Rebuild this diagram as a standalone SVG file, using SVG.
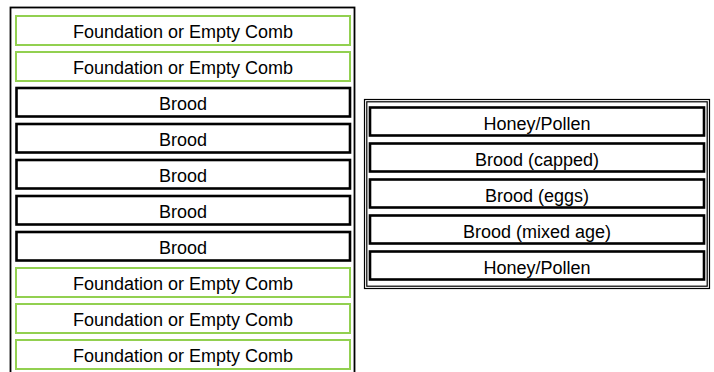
<svg xmlns="http://www.w3.org/2000/svg" width="714" height="372" viewBox="0 0 714 372">
<style>
.frame{fill:none;stroke:#000;stroke-width:1.8}
.thin{fill:none;stroke:#000;stroke-width:1.2}
.green{fill:#fff;stroke:#92D050;stroke-width:2}
.black{fill:#fff;stroke:#000;stroke-width:2.6}
text{font-family:"Liberation Sans",Arial,sans-serif;font-size:18px;fill:#000;text-anchor:middle}
</style>
<rect x="0" y="0" width="714" height="372" fill="#fff"/>
<g id="left-frame"><rect class="frame" x="10.5" y="7.5" width="344" height="380"/></g>
<g id="left-1"><rect class="green" x="16" y="16" width="334" height="29"/><text x="183" y="38">Foundation or Empty Comb</text></g>
<g id="left-2"><rect class="green" x="16" y="52" width="334" height="29"/><text x="183" y="74">Foundation or Empty Comb</text></g>
<g id="left-3"><rect class="black" x="16.5" y="88" width="333.5" height="28.5"/><text x="183" y="110">Brood</text></g>
<g id="left-4"><rect class="black" x="16.5" y="124" width="333.5" height="28.5"/><text x="183" y="146">Brood</text></g>
<g id="left-5"><rect class="black" x="16.5" y="160" width="333.5" height="28.5"/><text x="183" y="182">Brood</text></g>
<g id="left-6"><rect class="black" x="16.5" y="196" width="333.5" height="28.5"/><text x="183" y="218">Brood</text></g>
<g id="left-7"><rect class="black" x="16.5" y="232" width="333.5" height="28.5"/><text x="183" y="254">Brood</text></g>
<g id="left-8"><rect class="green" x="16" y="268" width="334" height="29"/><text x="183" y="290">Foundation or Empty Comb</text></g>
<g id="left-9"><rect class="green" x="16" y="304" width="334" height="29"/><text x="183" y="326">Foundation or Empty Comb</text></g>
<g id="left-10"><rect class="green" x="16" y="340" width="334" height="29"/><text x="183" y="362">Foundation or Empty Comb</text></g>
<g id="right-frame"><rect class="thin" x="364.5" y="99.5" width="345" height="189"/><rect class="thin" x="366.8" y="101.8" width="340.4" height="184.4"/></g>
<g id="right-1"><rect class="black" x="370" y="107.5" width="334" height="28"/><text x="537" y="130">Honey/Pollen</text></g>
<g id="right-2"><rect class="black" x="370" y="143.5" width="334" height="28"/><text x="537" y="166">Brood (capped)</text></g>
<g id="right-3"><rect class="black" x="370" y="179.5" width="334" height="28"/><text x="537" y="202">Brood (eggs)</text></g>
<g id="right-4"><rect class="black" x="370" y="215.5" width="334" height="28"/><text x="537" y="238">Brood (mixed age)</text></g>
<g id="right-5"><rect class="black" x="370" y="251.5" width="334" height="28"/><text x="537" y="274">Honey/Pollen</text></g>
<g id="connectors"></g>
</svg>
